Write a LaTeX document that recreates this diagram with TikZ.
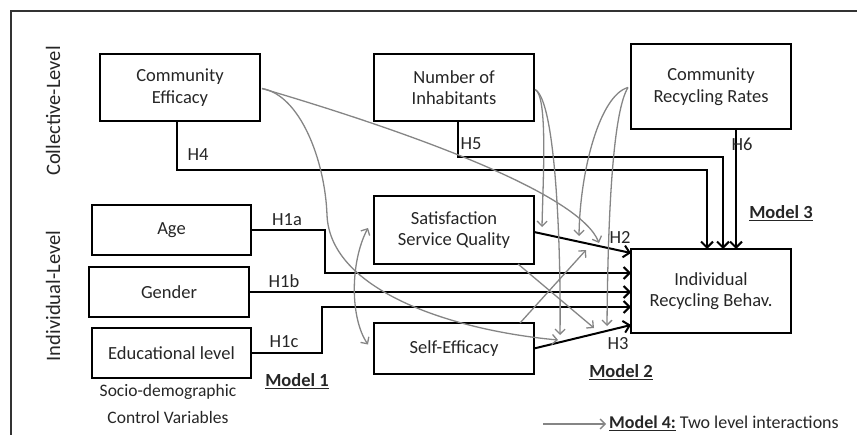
\documentclass[tikz,border=0pt]{standalone}
\usepackage{fontspec}
\setmainfont{Carlito}
\usetikzlibrary{arrows.meta,calc}
\begin{document}
\begin{tikzpicture}[x=1pt,y=-1pt,
 box/.style={draw, line width=2.2pt, align=center, inner sep=0pt, outer sep=0pt, font=\fontsize{18.5}{21.5}\selectfont, text=black!85},
 lbl/.style={font=\fontsize{18.5}{21}\selectfont, text=black!85, inner sep=0pt},
 lvl/.style={font=\fontsize{20.5}{24}\selectfont, text=black!85, inner sep=0pt, rotate=90},
 mdl/.style={font=\fontsize{18.5}{21}\selectfont\bfseries, text=black!85, inner sep=0pt},
 blk/.style={line width=2pt, -{Straight Barb[length=6pt,width=12pt,line width=2pt]}},
 gry/.style={draw=black!48, line width=1.3pt, -{Straight Barb[length=5pt,width=10pt,line width=1.3pt]}},
 gryb/.style={draw=black!48, line width=1.3pt, {Straight Barb[length=5pt,width=10pt,line width=1.3pt]}-{Straight Barb[length=5pt,width=10pt,line width=1.3pt]}},
]
\useasboundingbox (0,0) rectangle (857,434);
% frame
\draw[line width=2pt, black!80] (11,440) -- (11,11) -- (870,11);

% boxes
\node[box, minimum width=160pt, minimum height=67pt] (ce) at (180,87.5) {Community\\Efficacy};
\node[box, minimum width=160pt, minimum height=67pt] (ni) at (454,87.5) {Number of\\Inhabitants};
\node[box, minimum width=160pt, minimum height=85pt] (crr) at (711,86.5) {Community\\Recycling Rates};
\node[box, minimum width=159pt, minimum height=50pt] (age) at (171.5,230) {Age};
\node[box, minimum width=160pt, minimum height=50pt] (gen) at (169,292) {Gender};
\node[box, minimum width=159pt, minimum height=50pt] (edu) at (171.5,353) {Educational level};
\node[box, minimum width=160pt, minimum height=68pt] (sat) at (454,230) {Satisfaction\\Service Quality};
\node[box, minimum width=160pt, minimum height=51pt] (se) at (454,348.5) {Self-Efficacy};
\node[box, minimum width=160pt, minimum height=84pt] (irb) at (711,291) {Individual\\Recycling Behav.};

% level labels
\node[lvl] (coll) at (53,111) {Collective-Level};
\node[lvl] (indiv) at (53,296) {Individual-Level};

% coordinates on IRB
\coordinate (irbA) at ($(irb.north west)+(76,0)$);
\coordinate (irbB) at ($(irb.north west)+(92,0)$);
\coordinate (irbC) at ($(irb.north west)+(105,0)$);
\coordinate (irbH2) at ($(irb.west)+(0,-38)$);
\coordinate (irbH1a) at ($(irb.west)+(0,-18)$);
\coordinate (irbH1c) at ($(irb.west)+(0,16)$);
\coordinate (irbH3) at ($(irb.west)+(0,34)$);

% black paths
\draw[blk] ($(ce.south)+(-3,0)$) -- ++(0,49) -| (irbA);
\draw[blk] ($(ni.south)+(4,0)$) -- ++(0,36) -| (irbB);
\draw[blk] ($(crr.south)+(25,0)$) -- (irbC);
\draw[blk] (age.east) -- ++(74,0) |- (irbH1a);
\draw[blk] (gen.east) -- (gen.east -| irb.west);
\draw[blk] (edu.east) -- ++(71,0) |- (irbH1c);
\draw[blk] ($(sat.east)+(0,2)$) -- (irbH2);
\draw[blk] (se.east) -- (irbH3);

% labels
\node[lbl] (h4) at (198,155) {H4};
\node[lbl] (h5) at (471,144) {H5};
\node[lbl] (h6) at (742,144) {H6};
\node[lbl] (h1a) at (287,220) {H1a};
\node[lbl] (h1b) at (284,281) {H1b};
\node[lbl] (h1c) at (284,342) {H1c};
\node[lbl] (h2) at (620,237) {H2};
\node[lbl] (h3) at (618,344) {H3};
\node[mdl] (m1) at (297,381) {\underline{Model 1}};
\node[mdl] (m2) at (621,372) {\underline{Model 2}};
\node[mdl] (m3) at (781,213) {\underline{Model 3}};
\node[lbl, align=center, font=\fontsize{17.5}{27}\selectfont] (socio) at (168,404) {Socio-demographic\\Control Variables};

% gray interaction arrows
\coordinate (t1) at (599,243);
\coordinate (t2) at (558,340);
\coordinate (t3) at (542,227);
\coordinate (t4) at (560,335);
\coordinate (t5) at (579,236);
\coordinate (t6) at (607,326);
\coordinate (t7) at (594,328);
\coordinate (t8) at (586,250);
\draw[gry] ($(ce.east)+(2,1)$) .. controls (420,135) and (580,195) .. (t1);
\draw[gry] ($(ce.east)+(2,1)$) .. controls (300,95) and (325,160) .. (327,215) .. controls (330,290) and (450,330) .. (t2);
\draw[gry] ($(ni.east)+(1,2)$) .. controls (548,95) and (543,180) .. (t3);
\draw[gry] ($(ni.east)+(1,2)$) .. controls (556,100) and (561,250) .. (t4);
\draw[gry] ($(crr.west)+(-3,1)$) .. controls (600,95) and (580,170) .. (t5);
\draw[gry] ($(crr.west)+(-3,1)$) .. controls (614,110) and (608,200) .. (t6);
\draw[gry] ($(sat.south east)+(-16,0)$) -- (t7);
\draw[gry] ($(se.north east)+(-14,0)$) -- (t8);
\draw[gryb] ($(sat.west)+(-6,-2)$) .. controls (350,262) and (350,318) .. ($(se.west)+(-6,-4)$);

% legend
\coordinate (lg1) at (543,424);
\coordinate (lg2) at (606,424);
\draw[gry] (lg1) -- (lg2);
\node[lbl, anchor=west, font=\fontsize{18}{20}\selectfont] (leg) at (609,423) {\underline{\textbf{Model 4:}} Two level interactions};
\end{tikzpicture}
\end{document}
